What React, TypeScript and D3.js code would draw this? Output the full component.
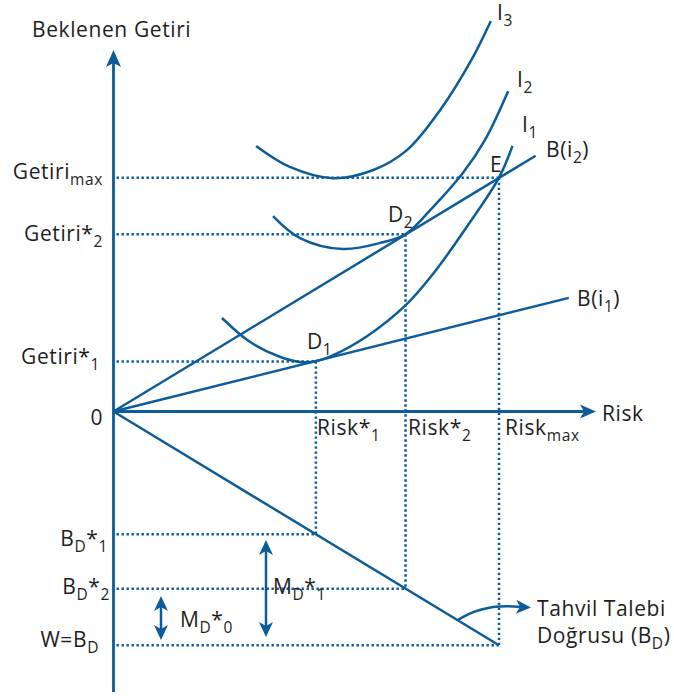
import React from "react";
import * as d3 from "d3";

// Risk levels on the horizontal axis: Risk*1, Risk*2, Risk_max
const riskLevels = [42, 60.6, 80];
// Expected return levels: Getiri*1, Getiri*2, Getiri_max
const returnLevels = [10.7, 37.9, 50];
// Bond demand levels below the axis: B_D*1, B_D*2, W=B_D
const bondLevels = [-26.25, -37.9, -50];

// Straight lines from the origin (end points)
const lineBi1: [number, number][] = [[0, 0], [94.5, 24.3]];
const lineBi2: [number, number][] = [[0, 0], [87.6, 54.7]];
const lineBD: [number, number][] = [[0, 0], [80, -50]];

// Indifference curves
const curveI1: [number, number][] = [
  [22.5, 20.0], [28.3, 14.9], [34.5, 11.7], [38.7, 10.6], [42.0, 10.75],
  [45.5, 12.0], [52.6, 16.1], [60.7, 22.8], [66.3, 29.4], [73.4, 39.6],
  [80, 50], [82.8, 56.8],
];
const curveI2: [number, number][] = [
  [33.1, 41.8], [38.7, 37.1], [47.6, 34.75], [55.9, 36.2], [60.6, 37.9],
  [66.3, 43.7], [72.5, 51.0], [77.1, 58.1], [81.9, 68.5],
];
const curveI3: [number, number][] = [
  [29.6, 56.8], [36.6, 52.3], [45.5, 49.9], [53.8, 51.6], [60.9, 55.9],
  [67.8, 64.5], [74.6, 75.8], [78.3, 83.5],
];

const W = 674;
const H = 696;
const BLUE = "#0b5c99";
const INK = "#1e1e1e";
const FONT = "'Open Sans', 'Noto Sans', sans-serif";
const FS = 21;
const SUB = 15.5;
const SPACING = 0.6;

const x = d3.scaleLinear().domain([0, 80]).range([113.5, 499]);
const y = d3.scaleLinear().domain([0, 50]).range([411.5, 177.7]);

const lineGen = d3
  .line<[number, number]>()
  .x((d) => x(d[0]))
  .y((d) => y(d[1]));
const curveGen = d3
  .line<[number, number]>()
  .x((d) => x(d[0]))
  .y((d) => y(d[1]))
  .curve(d3.curveCatmullRom.alpha(0.5));

// Notched arrowhead with its tip at (tx, ty), pointing along angle (radians)
function arrowHead(tx: number, ty: number, angle: number, len = 16, half = 7, notch = 4) {
  const ux = Math.cos(angle);
  const uy = Math.sin(angle);
  const px = -uy;
  const py = ux;
  const bx = tx - ux * len;
  const by = ty - uy * len;
  const nx = tx - ux * (len - notch);
  const ny = ty - uy * (len - notch);
  return `M${tx},${ty}L${bx + px * half},${by + py * half}L${nx},${ny}L${bx - px * half},${by - py * half}Z`;
}

type Part = { t: string; sub?: boolean };

function Label({ parts, px, py, anchor = "start" }: { parts: Part[]; px: number; py: number; anchor?: "start" | "end" }) {
  let level = 0;
  return (
    <text x={px} y={py} textAnchor={anchor} fontFamily={FONT} fontSize={FS} fill={INK} letterSpacing={SPACING}>
      {parts.map((p, i) => {
        const target = p.sub ? 6 : 0;
        const dy = target - level;
        level = target;
        return (
          <tspan key={i} dy={dy} fontSize={p.sub ? SUB : FS}>
            {p.t}
          </tspan>
        );
      })}
    </text>
  );
}

export default function App() {
  const x0 = x(0);
  const y0 = y(0);
  const dotted = { stroke: BLUE, strokeWidth: 2.5, strokeDasharray: "2.4 2.6", fill: "none" };

  // double-headed arrows for M_D*0 and M_D*1
  const dbl = (cx: number, top: number, bottom: number) => (
    <g>
      <line x1={cx} x2={cx} y1={top + 10} y2={bottom - 10} stroke={BLUE} strokeWidth={2.5} />
      <path d={arrowHead(cx, top, -Math.PI / 2, 15, 7, 4)} fill={BLUE} />
      <path d={arrowHead(cx, bottom, Math.PI / 2, 15, 7, 4)} fill={BLUE} />
    </g>
  );

  return (
    <svg width={W} height={H} style={{ position: "absolute", left: 0, top: 0, background: "#fff" }}>
      {/* dotted guides */}
      {returnLevels.map((r, i) => (
        <g key={"r" + i}>
          <line x1={x0 + 3} x2={x(riskLevels[i])} y1={y(r)} y2={y(r)} {...dotted} />
          <line x1={x(riskLevels[i])} x2={x(riskLevels[i])} y1={y(r)} y2={y(bondLevels[i])} {...dotted} />
          <line x1={x0 + 3} x2={x(riskLevels[i])} y1={y(bondLevels[i])} y2={y(bondLevels[i])} {...dotted} />
        </g>
      ))}

      {/* axes */}
      <line x1={x0} x2={x0} y1={692} y2={62} stroke={BLUE} strokeWidth={2.8} />
      <path d={arrowHead(x0, 50, -Math.PI / 2, 17, 7.5, 4)} fill={BLUE} />
      <line x1={x0} x2={584} y1={y0} y2={y0} stroke={BLUE} strokeWidth={2.8} />
      <path d={arrowHead(596, y0, 0, 16, 7, 4)} fill={BLUE} />

      {/* straight lines */}
      {[lineBi1, lineBi2, lineBD].map((l, i) => (
        <path key={"l" + i} d={lineGen(l) || ""} stroke={BLUE} strokeWidth={2.5} fill="none" />
      ))}

      {/* indifference curves */}
      {[curveI1, curveI2, curveI3].map((c, i) => (
        <path key={"c" + i} d={curveGen(c) || ""} stroke={BLUE} strokeWidth={2.5} fill="none" />
      ))}

      {/* M_D arrows */}
      {dbl(161, 596, 640)}
      {dbl(266, 540, 637)}

      {/* pointer to the bond demand line */}
      <path d="M458,620 Q484,603 520,607" stroke={BLUE} strokeWidth={2.5} fill="none" />
      <path d={arrowHead(531, 607.5, 0.05, 15, 7, 4)} fill={BLUE} />

      {/* texts */}
      <text x={32} y={37} fontFamily={FONT} fontSize={21} fill={INK} letterSpacing={SPACING}>Beklenen Getiri</text>
      <Label parts={[{ t: "Getiri" }, { t: "max", sub: true }]} px={103} py={179} anchor="end" />
      <Label parts={[{ t: "Getiri*" }, { t: "2", sub: true }]} px={103} py={241} anchor="end" />
      <Label parts={[{ t: "Getiri*" }, { t: "1", sub: true }]} px={100} py={364} anchor="end" />
      <Label parts={[{ t: "0" }]} px={103} py={425} anchor="end" />

      <Label parts={[{ t: "Risk*" }, { t: "1", sub: true }]} px={317} py={435} />
      <Label parts={[{ t: "Risk*" }, { t: "2", sub: true }]} px={408} py={435} />
      <Label parts={[{ t: "Risk" }, { t: "max", sub: true }]} px={505} py={435} />
      <Label parts={[{ t: "Risk" }]} px={602} py={421} />

      <Label parts={[{ t: "B" }, { t: "D", sub: true }, { t: "*" }, { t: "1", sub: true }]} px={108} py={546} anchor="end" />
      <Label parts={[{ t: "B" }, { t: "D", sub: true }, { t: "*" }, { t: "2", sub: true }]} px={110} py={594} anchor="end" />
      <Label parts={[{ t: "W=B" }, { t: "D", sub: true }]} px={99} py={647} anchor="end" />
      <Label parts={[{ t: "M" }, { t: "D", sub: true }, { t: "*" }, { t: "0", sub: true }]} px={180} py={627} />
      <Label parts={[{ t: "M" }, { t: "D", sub: true }, { t: "*" }, { t: "1", sub: true }]} px={273} py={594} />

      <Label parts={[{ t: "Tahvil Talebi" }]} px={537} py={616} />
      <Label parts={[{ t: "Doğrusu (B" }, { t: "D", sub: true }, { t: ")" }]} px={537} py={643} />

      <Label parts={[{ t: "I" }, { t: "3", sub: true }]} px={497} py={20} />
      <Label parts={[{ t: "I" }, { t: "2", sub: true }]} px={517} py={87} />
      <Label parts={[{ t: "I" }, { t: "1", sub: true }]} px={522} py={132} />
      <Label parts={[{ t: "B(i" }, { t: "2", sub: true }, { t: ")" }]} px={546} py={157} />
      <Label parts={[{ t: "E" }]} px={490} py={172} />
      <Label parts={[{ t: "D" }, { t: "2", sub: true }]} px={388} py={222} />
      <Label parts={[{ t: "D" }, { t: "1", sub: true }]} px={307} py={349} />
      <Label parts={[{ t: "B(i" }, { t: "1", sub: true }, { t: ")" }]} px={577} py={306} />
    </svg>
  );
}
